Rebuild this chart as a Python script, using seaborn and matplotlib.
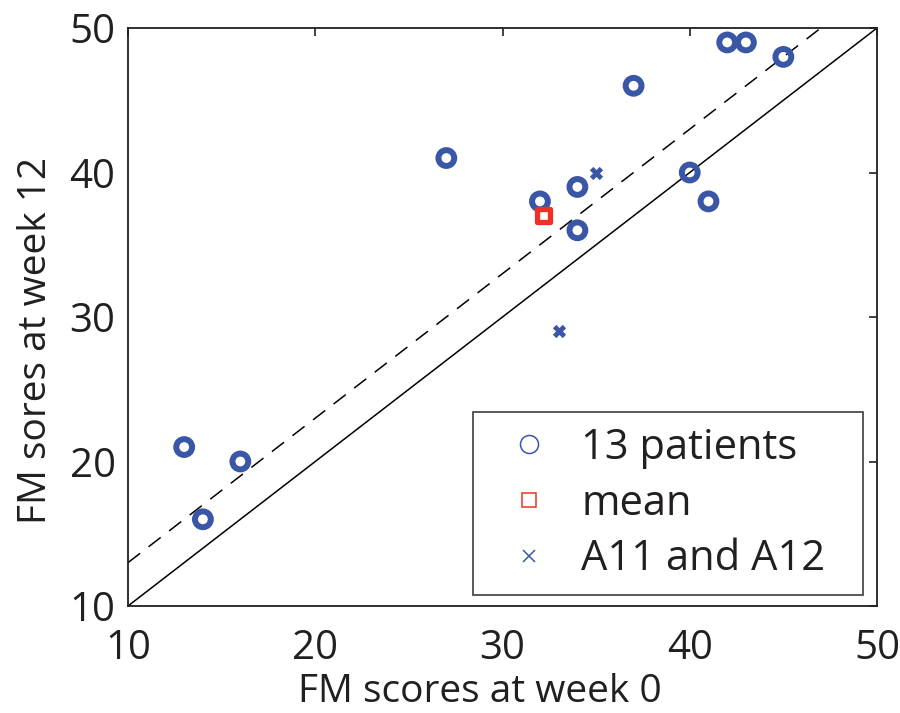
import matplotlib
matplotlib.use("Agg")
import matplotlib.pyplot as plt
from matplotlib.lines import Line2D
import seaborn as sns
import pandas as pd

# Data
week0 = [13, 14, 16, 27, 32, 34, 34, 37, 40, 41, 42, 43, 45]
week12 = [21, 16, 20, 41, 38, 39, 36, 46, 40, 38, 49, 49, 48]
mean_x = [32.2]
mean_y = [37]
a_x = [35, 33]
a_y = [40, 29]
line_x = [10, 50]
ident_y = [10, 50]
dash_x = [10, 47]
dash_y = [13, 50]
ticks = [10, 20, 30, 40, 50]
legend_labels = ["13 patients", "mean", "A11 and A12"]

blue = "#3a56a6"
red = "#ee3124"
ink = "#231f20"

sns.set_style("white")
plt.rcParams['font.family'] = ['Open Sans', 'DejaVu Sans']

fig = plt.figure(figsize=(9, 7.13), dpi=100)
ax = fig.add_axes([128/900, 1 - 606/713, (877-128)/900, (606-28)/713])

sns.lineplot(x=line_x, y=ident_y, ax=ax, color="black", linewidth=1.1)
sns.lineplot(x=dash_x, y=dash_y, ax=ax, color="black", linewidth=1.1, linestyle=(0, (10, 7)))

df = pd.DataFrame({"x": week0, "y": week12})
sns.scatterplot(data=df, x="x", y="y", ax=ax, marker="o", s=130,
                facecolors="none", edgecolor=blue, linewidth=4.3, zorder=3)
sns.scatterplot(x=mean_x, y=mean_y, ax=ax, marker="s", s=88,
                facecolors="none", edgecolor=red, linewidth=3.8, zorder=3)
sns.scatterplot(x=a_x, y=a_y, ax=ax, marker="x", s=50,
                color=blue, linewidth=3.5, zorder=3)

ax.set_xlim(10, 50)
ax.set_ylim(10, 50)
ax.set_xticks(ticks)
ax.set_yticks(ticks)
ax.tick_params(direction="in", length=6, width=1.2, top=True, right=True,
               labelsize=29, colors=ink)
ax.tick_params(axis="x", pad=16)
ax.tick_params(axis="y", pad=9)
for s in ax.spines.values():
    s.set_linewidth(1.3)
    s.set_color(ink)

ax.set_xlabel("FM scores at week 0", fontsize=28, color=ink)
ax.set_ylabel("FM sores at week 12", fontsize=28, color=ink)
ax.xaxis.set_label_coords((480 - 128) / 749, (606 - 702) / 578)
ax.xaxis.label.set_verticalalignment("baseline")
ax.yaxis.set_label_coords((46 - 128) / 749, (606 - 340) / 578)
ax.yaxis.label.set_verticalalignment("baseline")

handles = [
    Line2D([], [], linestyle="none", marker="o", markersize=13, markerfacecolor="none",
           markeredgecolor=blue, markeredgewidth=1.1),
    Line2D([], [], linestyle="none", marker="s", markersize=10, markerfacecolor="none",
           markeredgecolor=red, markeredgewidth=1.1),
    Line2D([], [], linestyle="none", marker="x", markersize=9, color=blue,
           markeredgewidth=1.1),
]
leg = ax.legend(handles, legend_labels, loc="lower left", mode="expand",
                fontsize=30, frameon=True, fancybox=False, edgecolor=ink,
                handlelength=2.0, handletextpad=0.25, borderpad=0.35, labelspacing=0.33,
                borderaxespad=0,
                bbox_to_anchor=((473 - 128) / 749, 0.019, 390 / 749, 0.3))
leg.get_frame().set_linewidth(1.3)
for t in leg.get_texts():
    t.set_color(ink)

fig.savefig("out.png", dpi=100)
